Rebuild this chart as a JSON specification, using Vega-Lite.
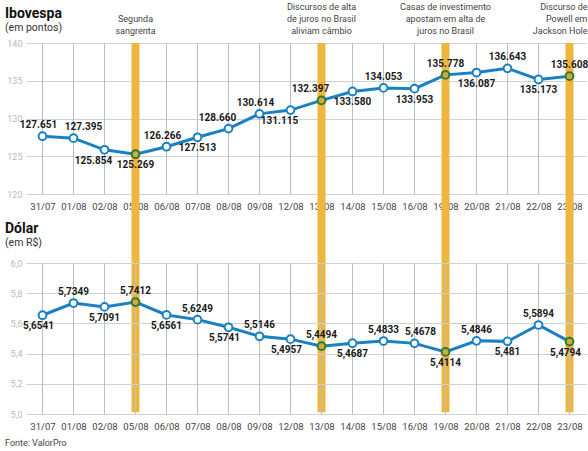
{
  "$schema": "https://vega.github.io/schema/vega-lite/v6.json",
  "background": "white",
  "padding": {"left": 5, "top": 3, "right": 0, "bottom": 0},
  "datasets": {
    "serie": [
      {"d": "31/07", "ibov": 127651, "dolar": 5.6541},
      {"d": "01/08", "ibov": 127395, "dolar": 5.7349},
      {"d": "02/08", "ibov": 125854, "dolar": 5.7091},
      {"d": "05/08", "ibov": 125269, "dolar": 5.7412},
      {"d": "06/08", "ibov": 126266, "dolar": 5.6561},
      {"d": "07/08", "ibov": 127513, "dolar": 5.6249},
      {"d": "08/08", "ibov": 128660, "dolar": 5.5741},
      {"d": "09/08", "ibov": 130614, "dolar": 5.5146},
      {"d": "12/08", "ibov": 131115, "dolar": 5.4957},
      {"d": "13/08", "ibov": 132397, "dolar": 5.4494},
      {"d": "14/08", "ibov": 133580, "dolar": 5.4687},
      {"d": "15/08", "ibov": 134053, "dolar": 5.4833},
      {"d": "16/08", "ibov": 133953, "dolar": 5.4678},
      {"d": "19/08", "ibov": 135778, "dolar": 5.4114},
      {"d": "20/08", "ibov": 136087, "dolar": 5.4846},
      {"d": "21/08", "ibov": 136643, "dolar": 5.481},
      {"d": "22/08", "ibov": 135173, "dolar": 5.5894},
      {"d": "23/08", "ibov": 135608, "dolar": 5.4794}
    ],
    "eventos": [
      {"d": "05/08", "nota": "Segunda\nsangrenta"},
      {"d": "13/08", "nota": "Discursos de alta\nde juros no Brasil\naliviam câmbio"},
      {"d": "19/08", "nota": "Casas de investimento\napostam em alta de\njuros no Brasil"},
      {"d": "23/08", "nota": "Discurso de\nPowell em\nJackson Hole"}
    ]
  },
  "title": {
    "text": "Fonte: ValorPro",
    "orient": "bottom",
    "anchor": "start",
    "frame": "bounds",
    "fontSize": 9,
    "fontWeight": "normal",
    "color": "#444444",
    "offset": 8
  },
  "bounds": "flush",
  "spacing": 69,
  "vconcat": [
    {
      "width": 560,
      "height": 151,
      "title": {
        "text": "Ibovespa",
        "subtitle": "(em pontos)",
        "anchor": "start",
        "frame": "group",
        "dx": -21,
        "offset": -30,
        "fontSize": 14,
        "fontWeight": "bold",
        "color": "#111111",
        "subtitleFontSize": 10.5,
        "subtitleColor": "#333333",
        "subtitlePadding": 2
      },
      "encoding": {
        "x": {
          "field": "d", "type": "ordinal", "sort": null,
          "scale": {"type": "point", "padding": 0.532, "domain": ["31/07","01/08","02/08","05/08","06/08","07/08","08/08","09/08","12/08","13/08","14/08","15/08","16/08","19/08","20/08","21/08","22/08","23/08"]},
          "axis": {"title": null, "labelAngle": 0, "grid": false, "ticks": false, "domain": false, "labelPadding": 7}
        }
      },
      "layer": [
        {
          "data": {"name": "serie"},
          "mark": {"type": "tick", "orient": "vertical", "color": "#b9c0c4", "thickness": 1, "size": 151, "opacity": 1},
          "encoding": {
            "y": {"datum": 130000, "type": "quantitative", "scale": {"domain": [120000, 140000], "nice": false, "zero": false},
              "axis": {"title": null, "values": [120000, 125000, 130000, 135000, 140000], "labelExpr": "format(datum.value/1000, 'd')", "grid": true, "ticks": false, "domain": false, "labelPadding": 4, "labelColor": "#b5bcc0", "labelFontSize": 9}}
          }
        },
        {
          "data": {"name": "eventos"},
          "mark": {"type": "rule", "color": "#EFB63F", "strokeWidth": 8, "clip": false},
          "encoding": {
            "y": {"datum": 140000, "type": "quantitative", "scale": {"domain": [120000, 140000], "nice": false, "zero": false},
              "axis": {"title": null, "values": [120000, 125000, 130000, 135000, 140000], "labelExpr": "format(datum.value/1000, 'd')", "grid": true, "ticks": false, "domain": false, "labelPadding": 4, "labelColor": "#b5bcc0", "labelFontSize": 9}},
            "y2": {"datum": 91100}
          }
        },
        {
          "data": {"name": "eventos"},
          "transform": [{"filter": "datum.d == '05/08'"}],
          "mark": {"type": "text", "lineBreak": "\n", "baseline": "alphabetic", "dy": -21, "fontSize": 9, "lineHeight": 12, "color": "#444444", "clip": false},
          "encoding": {
            "y": {"datum": 140000, "type": "quantitative", "scale": {"domain": [120000, 140000], "nice": false, "zero": false},
              "axis": {"title": null, "values": [120000, 125000, 130000, 135000, 140000], "labelExpr": "format(datum.value/1000, 'd')", "grid": true, "ticks": false, "domain": false, "labelPadding": 4, "labelColor": "#b5bcc0", "labelFontSize": 9}},
            "text": {"field": "nota"}
          }
        },
        {
          "data": {"name": "eventos"},
          "transform": [{"filter": "datum.d == '13/08' || datum.d == '19/08'"}],
          "mark": {"type": "text", "lineBreak": "\n", "baseline": "alphabetic", "dy": -33, "fontSize": 9, "lineHeight": 12, "color": "#444444", "clip": false},
          "encoding": {
            "y": {"datum": 140000, "type": "quantitative", "scale": {"domain": [120000, 140000], "nice": false, "zero": false},
              "axis": {"title": null, "values": [120000, 125000, 130000, 135000, 140000], "labelExpr": "format(datum.value/1000, 'd')", "grid": true, "ticks": false, "domain": false, "labelPadding": 4, "labelColor": "#b5bcc0", "labelFontSize": 9}},
            "text": {"field": "nota"}
          }
        },
        {
          "data": {"name": "eventos"},
          "transform": [{"filter": "datum.d == '23/08'"}],
          "mark": {"type": "text", "lineBreak": "\n", "baseline": "alphabetic", "align": "right", "dx": 18, "dy": -33, "fontSize": 9, "lineHeight": 12, "color": "#444444", "clip": false},
          "encoding": {
            "y": {"datum": 140000, "type": "quantitative", "scale": {"domain": [120000, 140000], "nice": false, "zero": false},
              "axis": {"title": null, "values": [120000, 125000, 130000, 135000, 140000], "labelExpr": "format(datum.value/1000, 'd')", "grid": true, "ticks": false, "domain": false, "labelPadding": 4, "labelColor": "#b5bcc0", "labelFontSize": 9}},
            "text": {"field": "nota"}
          }
        },
        {
          "data": {"name": "serie"},
          "layer": [
            {"mark": {"type": "line", "color": "#1a80c4", "strokeWidth": 3}},
            {
              "mark": {"type": "point", "shape": "circle", "filled": true, "size": 60, "strokeWidth": 2, "opacity": 1},
              "encoding": {
                "fill": {"condition": {"test": "indexof(['05/08','13/08','19/08','23/08'], datum.d) >= 0", "value": "#d2aa3a"}, "value": "white"},
                "stroke": {"condition": {"test": "indexof(['05/08','13/08','19/08','23/08'], datum.d) >= 0", "value": "#2e7a34"}, "value": "#1a80c4"}
              }
            },
            {
              "transform": [{"filter": {"field": "d", "oneOf": ["15/08","19/08","21/08","23/08"]}}],
              "mark": {"type": "text", "fontWeight": "bold", "fontSize": 10, "baseline": "bottom", "dy": -6, "color": "#1a1a1a"},
              "encoding": {"text": {"field": "ibov", "type": "quantitative", "format": ",.0f"}}
            },
            {
              "transform": [{"filter": {"field": "d", "oneOf": ["31/07","06/08","09/08"]}}],
              "mark": {"type": "text", "fontWeight": "bold", "fontSize": 10, "baseline": "bottom", "dy": -6, "dx": -4, "color": "#1a1a1a"},
              "encoding": {"text": {"field": "ibov", "type": "quantitative", "format": ",.0f"}}
            },
            {
              "transform": [{"filter": {"field": "d", "oneOf": ["01/08"]}}],
              "mark": {"type": "text", "fontWeight": "bold", "fontSize": 10, "baseline": "bottom", "dy": -6, "dx": 10, "color": "#1a1a1a"},
              "encoding": {"text": {"field": "ibov", "type": "quantitative", "format": ",.0f"}}
            },
            {
              "transform": [{"filter": {"field": "d", "oneOf": ["08/08","13/08"]}}],
              "mark": {"type": "text", "fontWeight": "bold", "fontSize": 10, "baseline": "bottom", "dy": -6, "dx": -11, "color": "#1a1a1a"},
              "encoding": {"text": {"field": "ibov", "type": "quantitative", "format": ",.0f"}}
            },
            {
              "transform": [{"filter": {"field": "d", "oneOf": ["05/08","07/08","14/08","16/08","20/08","22/08"]}}],
              "mark": {"type": "text", "fontWeight": "bold", "fontSize": 10, "baseline": "top", "dy": 6, "color": "#1a1a1a"},
              "encoding": {"text": {"field": "ibov", "type": "quantitative", "format": ",.0f"}}
            },
            {
              "transform": [{"filter": {"field": "d", "oneOf": ["02/08","12/08"]}}],
              "mark": {"type": "text", "fontWeight": "bold", "fontSize": 10, "baseline": "top", "dy": 6, "dx": -11, "color": "#1a1a1a"},
              "encoding": {"text": {"field": "ibov", "type": "quantitative", "format": ",.0f"}}
            }
          ],
          "encoding": {
            "y": {"field": "ibov", "type": "quantitative", "scale": {"domain": [120000, 140000], "nice": false, "zero": false},
              "axis": {"title": null, "values": [120000, 125000, 130000, 135000, 140000], "labelExpr": "format(datum.value/1000, 'd')", "grid": true, "ticks": false, "domain": false, "labelPadding": 4, "labelColor": "#b5bcc0", "labelFontSize": 9}}
          }
        }
      ]
    },
    {
      "width": 560,
      "height": 151,
      "data": {"name": "serie"},
      "title": {
        "text": "Dólar",
        "subtitle": "(em R$)",
        "anchor": "start",
        "frame": "group",
        "dx": -21,
        "offset": 11,
        "fontSize": 14,
        "fontWeight": "bold",
        "color": "#111111",
        "subtitleFontSize": 10.5,
        "subtitleColor": "#333333",
        "subtitlePadding": 2
      },
      "encoding": {
        "x": {
          "field": "d", "type": "ordinal", "sort": null,
          "scale": {"type": "point", "padding": 0.532, "domain": ["31/07","01/08","02/08","05/08","06/08","07/08","08/08","09/08","12/08","13/08","14/08","15/08","16/08","19/08","20/08","21/08","22/08","23/08"]},
          "axis": {"title": null, "labelAngle": 0, "grid": false, "ticks": false, "domain": false, "labelPadding": 7}
        },
        "y": {"field": "dolar", "type": "quantitative", "scale": {"domain": [5, 6], "nice": false, "zero": false},
          "axis": {"title": null, "values": [5, 5.2, 5.4, 5.6, 5.8, 6], "format": ".1f", "grid": true, "ticks": false, "domain": false, "labelPadding": 4, "labelColor": "#b5bcc0", "labelFontSize": 9}}
      },
      "layer": [
        {
          "mark": {"type": "tick", "orient": "vertical", "color": "#b9c0c4", "thickness": 1, "size": 151, "opacity": 1},
          "encoding": {
            "y": {"datum": 5.5, "type": "quantitative"}
          }
        },
        {
          "mark": {"type": "line", "color": "#1a80c4", "strokeWidth": 3}
        },
        {
          "mark": {"type": "point", "shape": "circle", "filled": true, "size": 60, "strokeWidth": 2, "opacity": 1},
          "encoding": {
            "fill": {"condition": {"test": "indexof(['05/08','13/08','19/08','23/08'], datum.d) >= 0", "value": "#d2aa3a"}, "value": "white"},
            "stroke": {"condition": {"test": "indexof(['05/08','13/08','19/08','23/08'], datum.d) >= 0", "value": "#2e7a34"}, "value": "#1a80c4"}
          }
        },
        {
          "transform": [{"filter": {"field": "d", "oneOf": ["01/08","05/08","07/08","09/08","13/08","15/08","20/08","22/08"]}}],
          "mark": {"type": "text", "fontWeight": "bold", "fontSize": 10, "baseline": "bottom", "dy": -6, "color": "#1a1a1a"},
          "encoding": {"text": {"field": "dolar", "type": "quantitative", "format": ".4~f"}}
        },
        {
          "transform": [{"filter": {"field": "d", "oneOf": ["16/08"]}}],
          "mark": {"type": "text", "fontWeight": "bold", "fontSize": 10, "baseline": "bottom", "dy": -6, "dx": 6, "color": "#1a1a1a"},
          "encoding": {"text": {"field": "dolar", "type": "quantitative", "format": ".4~f"}}
        },
        {
          "transform": [{"filter": {"field": "d", "oneOf": ["02/08","06/08","14/08","19/08","21/08"]}}],
          "mark": {"type": "text", "fontWeight": "bold", "fontSize": 10, "baseline": "top", "dy": 6, "color": "#1a1a1a"},
          "encoding": {"text": {"field": "dolar", "type": "quantitative", "format": ".4~f"}}
        },
        {
          "transform": [{"filter": {"field": "d", "oneOf": ["31/07","08/08","12/08","23/08"]}}],
          "mark": {"type": "text", "fontWeight": "bold", "fontSize": 10, "baseline": "top", "dy": 6, "dx": -4, "color": "#1a1a1a"},
          "encoding": {"text": {"field": "dolar", "type": "quantitative", "format": ".4~f"}}
        }
      ]
    }
  ],
  "config": {
    "font": "Roboto",
    "locale": {"number": {"decimal": ",", "thousands": ".", "grouping": [3], "currency": ["R$", ""]}},
    "view": {"stroke": null},
    "axis": {"gridColor": "#cdd2d4", "gridWidth": 1, "labelFont": "Roboto", "labelColor": "#444444", "labelFontSize": 9.5},
    "title": {"font": "Roboto", "subtitleFont": "Roboto"},
    "text": {"font": "Roboto"}
  }
}
